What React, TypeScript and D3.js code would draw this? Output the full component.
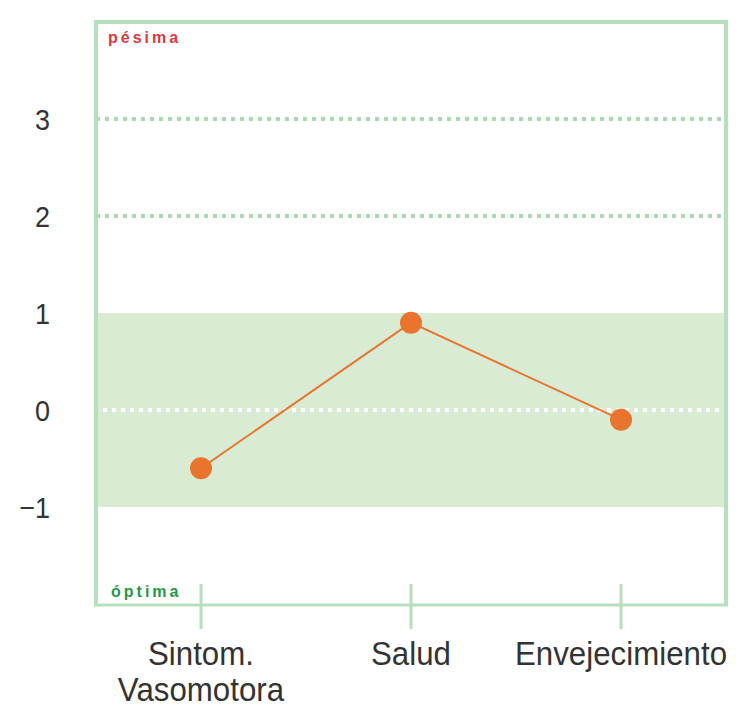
import React from "react";
import * as d3 from "d3";

const categories = ["Sintom.|Vasomotora", "Salud", "Envejecimiento"];
const values = [-0.6, 0.9, -0.1];
const yTicks = [3, 2, 1, 0, -1];
const dottedGreen = [3, 2];
const bandRange = [-1, 1];

const App: React.FC = () => {
  const width = 745;
  const height = 720;
  const box = { left: 96, right: 726, top: 22, bottom: 604 };

  const x = d3.scalePoint<string>()
    .domain(categories)
    .range([box.left, box.right])
    .padding(0.5);

  const y = d3.scaleLinear()
    .domain([-2, 4])
    .range([box.bottom, box.top]);

  const line = d3.line<number>()
    .x((_, i) => x(categories[i]) ?? 0)
    .y(d => y(d));

  const border = "#b6dfbd";
  const textColor = "#333";
  const font = "'Liberation Sans', Arial, sans-serif";

  return (
    <svg width={width} height={height} style={{ position: "absolute", left: 0, top: 0 }}>
      {/* banda verde */}
      <rect
        x={box.left}
        y={y(bandRange[1])}
        width={box.right - box.left}
        height={y(bandRange[0]) - y(bandRange[1])}
        fill="#d9ebd3"
      />
      {/* líneas punteadas */}
      {dottedGreen.map(t => (
        <line key={t} x1={box.left} x2={box.right} y1={y(t)} y2={y(t)}
          stroke="#a9d9b2" strokeWidth={4} strokeDasharray="4 5" />
      ))}
      <line x1={box.left - 2} x2={box.right} y1={y(0)} y2={y(0)}
        stroke="#fff" strokeWidth={4} strokeDasharray="4 5" />
      {/* marco */}
      <line x1={box.left} x2={box.left} y1={box.top - 2} y2={box.bottom + 1} stroke={border} strokeWidth={4} />
      <line x1={box.left - 2} x2={box.right + 2} y1={box.top} y2={box.top} stroke={border} strokeWidth={4} />
      <line x1={box.right} x2={box.right} y1={box.top - 2} y2={box.bottom + 1} stroke={border} strokeWidth={4} />
      <line x1={box.left - 2} x2={box.right + 2} y1={box.bottom + 1} y2={box.bottom + 1} stroke={border} strokeWidth={3} />
      {/* ticks eje x */}
      {categories.map(c => (
        <line key={c} x1={x(c)} x2={x(c)} y1={box.bottom - 20} y2={box.bottom + 25}
          stroke={border} strokeWidth={3} />
      ))}
      {/* etiquetas eje y */}
      {yTicks.map(t => (
        <g key={t} transform={`translate(50,${y(t) + 11}) scale(0.9,1)`}>
          <text x={0} y={0} textAnchor="end"
            fontFamily={font} fontSize={30} fill={textColor}>
            {t < 0 ? `\u2212${Math.abs(t)}` : t}
          </text>
        </g>
      ))}
      {/* etiquetas eje x */}
      {categories.map(c => (
        <g key={c} transform={`translate(${x(c)},665) scale(0.92,1)`}>
          {c.split("|").map((l, i) => (
            <text key={i} x={0} y={i * 36} textAnchor="middle"
              fontFamily={font} fontSize={34} fill={textColor}>
              {l}
            </text>
          ))}
        </g>
      ))}
      {/* pésima / óptima */}
      <text x={108} y={43} fontFamily={font} fontSize={16} fontWeight="bold"
        letterSpacing={3} fill="#e0383a">pésima</text>
      <text x={111} y={597} fontFamily={font} fontSize={16} fontWeight="bold"
        letterSpacing={3} fill="#1f9a45">óptima</text>
      {/* serie */}
      <path d={line(values) ?? ""} fill="none" stroke="#e8742e" strokeWidth={2} />
      {values.map((v, i) => (
        <circle key={i} cx={x(categories[i])} cy={y(v)} r={11} fill="#e8742e" />
      ))}
    </svg>
  );
};

export default App;
